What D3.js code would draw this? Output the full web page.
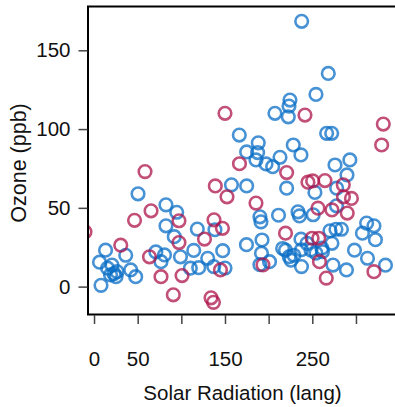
<!DOCTYPE html>
<html>
<head>
<meta charset="utf-8">
<script src="https://cdn.jsdelivr.net/npm/d3@7"></script>
<style>
  body { margin: 0; background: #fff; }
  text { font-family: "Liberation Sans", Arial, sans-serif; }
</style>
</head>
<body>
<script>
// values (solar radiation, ozone)
var blueSolar = [237.8,268.3,254.2,224.4,223.3,207.2,222.5,166.4,188.1,266.4,272.2,228.2,174.8,187.4,185.5,197,204.6,213,237,276,293,289.7,174.8,157.4,220.6,253,277.9,50.4,82.4,94.7,82.4,118.3,138.5,91.9,277.7,211.3,190,191.2,235.3,233.6,251,270.2,277.1,283.4,312.2,320.6,307.4,322.3,174.6,192.4,237,243.9,272.5,261,219.3,223.6,229,225.6,237.6,248.5,254.2,261.6,298.3,313.2,333.8,191.8,201,190,237.6,273.7,289.1,216,13.2,6.3,36.3,20.6,26.3,22.9,25.2,15.5,18.9,42,47.7,8,70.8,80.7,76.7,99,114.2,130.2,147.4,110.3,119.9,137.1,150]
var blueOzone = [168.4,135.3,122,118.4,114.6,110,107.8,96.2,91.3,97.3,97.3,89.9,85.5,85.1,80.4,77.9,76.1,82.1,83.6,77.2,80.4,70.9,63.9,64.6,62.5,59.8,62.5,58.9,51.9,47.2,38.6,36.5,36.1,31.7,51.3,45.3,44.3,41.1,44.9,47.5,45.6,35.4,36.4,36.4,40.3,38.6,33.9,29.8,26.6,29.6,30.1,27.5,27.5,24.4,23.1,19,19.9,16.8,23.4,23.2,21.2,22.2,23.1,18,13.6,21.2,15.8,13.9,12.7,13.7,10.6,24.2,23.1,15.5,19.9,13.7,9.5,8.2,6.3,11.7,7.4,10.6,6.3,0.8,22,20.1,15.8,18.9,23,18,22.8,11.7,12,12.7,11.8]
var pinkSolar = [150,241.6,331.3,329.4,58.4,138.9,152.3,166.6,220.6,245,250.4,264.5,285.5,285.7,294.8,185.5,256.5,272.5,290,219.3,249.8,257.4,258.2,193.5,266,320.6,65.3,46.4,97.3,137.4,147.1,126.5,97.3,-10.3,30.6,63.5,76.7,100.8,90.8,134,136.8,144.8]
var pinkOzone = [110,108.9,103.2,89.9,73,63.9,57,78,72.4,66.3,67.1,67.3,64.6,57,56,53,49.8,48.7,46.7,33.9,30.7,30.7,15.8,13.8,5.4,9.5,48.1,42.1,41.8,42.4,37,30.2,28,34.8,26.3,18.9,6.3,7,-5.2,-7.1,-10,10.6]

var xTicks = [0, 50, 100, 150, 200, 250, 300]
var xTickLabels = ["0", "50", "", "150", "", "250", ""]
var yTicks = [0, 50, 100, 150]

var width = 395, height = 407
var padL = 88, padR = 397, padT = 6.5, padB = 314.5
var fontSize = 20.5

var svg = d3.select("body").append("svg")
  .attr("width", width)
  .attr("height", height)

var x = d3.scaleLinear().domain([-6.9, 347]).range([padL, padR])
var y = d3.scaleLinear().domain([-17.7, 177.8]).range([padB, padT])

svg.append("clipPath").attr("id", "plotclip")
  .append("rect")
  .attr("x", padL).attr("y", padT)
  .attr("width", padR - padL).attr("height", padB - padT)

var pts = svg.append("g").attr("clip-path", "url(#plotclip)")

function drawGroup(xs, ys, colour, op) {
  pts.append("g").selectAll("circle")
    .data(xs.map(function(d, i) { return {s: d, o: ys[i]} }))
    .enter()
    .append("circle")
    .attr("cx", function(d) { return x(d.s) })
    .attr("cy", function(d) { return y(d.o) })
    .attr("r", 6.3)
    .attr("fill", "none")
    .attr("stroke", colour)
    .attr("stroke-width", 2.6)
    .attr("stroke-opacity", op)
}

drawGroup(blueSolar, blueOzone, "#0a6ec6", 0.75)
drawGroup(pinkSolar, pinkOzone, "#ad144b", 0.75)

// box
svg.append("rect")
  .attr("x", padL).attr("y", padT)
  .attr("width", padR - padL).attr("height", padB - padT)
  .attr("fill", "none")
  .attr("stroke", "#000")
  .attr("stroke-width", 2)

var xAxis = svg.append("g")
  .attr("transform", "translate(0," + (padB + 0.5) + ")")
  .call(d3.axisBottom(x).tickValues(xTicks).tickSize(9).tickPadding(27.5)
    .tickFormat(function(d, i) { return xTickLabels[i] }))
xAxis.select(".domain").remove()

var yAxis = svg.append("g")
  .attr("transform", "translate(" + (padL - 0.5) + ",0)")
  .call(d3.axisLeft(y).tickValues(yTicks).tickSize(9).tickPadding(8))
yAxis.select(".domain").remove()

svg.selectAll(".tick line").attr("stroke", "#444").attr("stroke-width", 1.5)
svg.selectAll(".tick text")
  .attr("font-size", fontSize)
  .attr("fill", "#111")
  .style("font-family", "'Liberation Sans', Arial, sans-serif")

svg.append("text")
  .attr("x", (padL + padR) / 2)
  .attr("y", 400)
  .attr("text-anchor", "middle")
  .attr("font-size", fontSize)
  .attr("fill", "#111")
  .text("Solar Radiation (lang)")

svg.append("text")
  .attr("transform", "translate(25.5,163) rotate(-90)")
  .attr("text-anchor", "middle")
  .attr("font-size", 21.5)
  .attr("fill", "#111")
  .text("Ozone (ppb)")
</script>
</body>
</html>
